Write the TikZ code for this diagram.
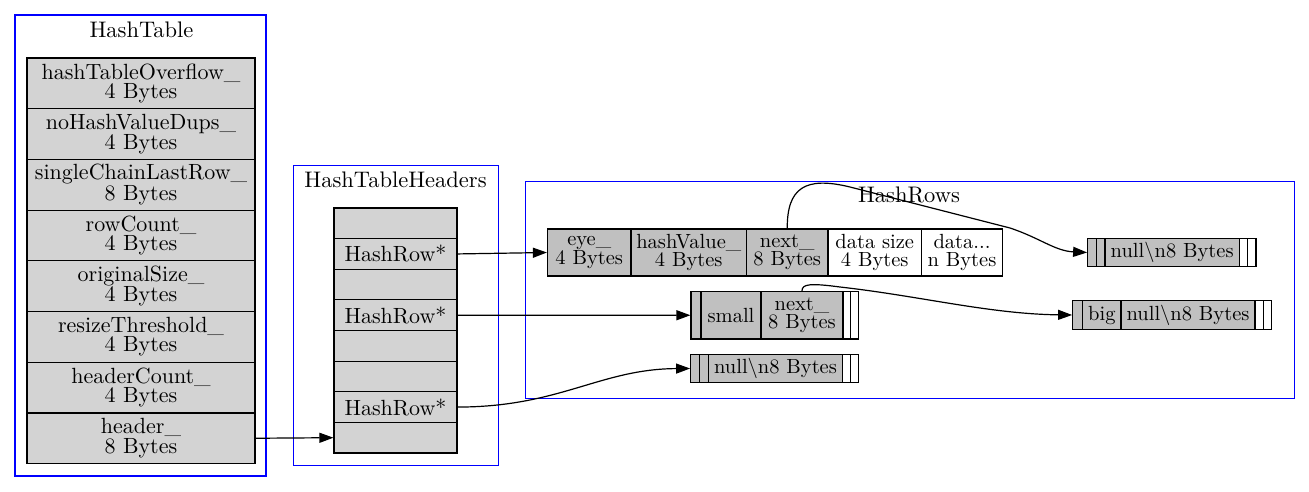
\documentclass[tikz,border=0pt]{standalone}
\usepackage{fontspec}
\setmainfont{lmroman10-regular.otf}
\usetikzlibrary{arrows.meta}
\definecolor{lgray}{HTML}{D3D3D3}
\definecolor{sgray}{HTML}{C0C0C0}
\begin{document}
\begin{tikzpicture}[x=1pt,y=-1pt,
  cell/.style={draw=black, line width=1.2pt, inner sep=0pt, align=center, font=\fontsize{22}{19.5}\selectfont},
  ltcell/.style={cell, fill=lgray},
  gcell/.style={cell, fill=sgray, font=\fontsize{20.5}{18}\selectfont},
  wcell/.style={cell, fill=white, font=\fontsize{20.5}{18}\selectfont},
  cluster/.style={draw=blue, line width=1pt},
  clabel/.style={inner sep=0pt, font=\fontsize{22.5}{19}\selectfont},
  edge/.style={-{Triangle[length=14pt,width=10pt]}, line width=1.2pt},
]
\useasboundingbox (0,0) rectangle (1309,492);
% clusters
\draw[cluster, line width=2.6pt] (15,15) rectangle (266,476);
\node[clabel] (lht) at (141.5,30) {HashTable};
\draw[cluster] (293,165) rectangle (498,465);
\node[clabel] (lhh) at (395.5,180) {HashTableHeaders};
\draw[cluster] (525,181) rectangle (1294,398);
\node[clabel] (lhr) at (909,195) {HashRows};
% HashTable record
\foreach \n/\t [count=\i] in {hashTableOverflow\_/4 Bytes, noHashValueDups\_/4 Bytes, singleChainLastRow\_/8 Bytes, rowCount\_/4 Bytes, originalSize\_/4 Bytes, resizeThreshold\_/4 Bytes, headerCount\_/4 Bytes, header\_/8 Bytes}
  \node[ltcell, minimum width=228pt, minimum height=50.7pt] (ht\i) at (141,{58+50.7*(\i-0.5)}) {\n\\\t};
% HashTableHeaders record
\foreach \t [count=\i] in {{},HashRow*,{},HashRow*,{},{},HashRow*,{}}
  \node[ltcell, minimum width=123pt, minimum height=30.625pt] (hh\i) at (395.5,{208+30.625*(\i-0.5)}) {\t};
% row 1
\node[gcell, minimum width=83.5pt, minimum height=47pt] (ra) at (589.25,252.5) {eye\_\\4 Bytes};
\node[gcell, minimum width=115.5pt, minimum height=47pt] (rb) at (688.75,252.5) {hashValue\_\\4 Bytes};
\node[gcell, minimum width=81.5pt, minimum height=47pt] (rc) at (787.25,252.5) {next\_\\8 Bytes};
\node[wcell, minimum width=93.5pt, minimum height=47pt] (rd) at (874.75,252.5) {data size\\4 Bytes};
\node[wcell, minimum width=81pt, minimum height=47pt] (re) at (962,252.5) {data...\\n Bytes};
% small record
\node[gcell, minimum width=10pt, minimum height=47.5pt] (sa) at (696,315.25) {};
\node[gcell, minimum width=60pt, minimum height=47.5pt] (sb) at (731,315.25) {small};
\node[gcell, minimum width=82pt, minimum height=47.5pt] (sc) at (802,315.25) {next\_\\8 Bytes};
\node[wcell, minimum width=7.7pt, minimum height=47.5pt] (sd) at (846.85,315.25) {};
\node[wcell, minimum width=8pt, minimum height=47.5pt] (se) at (854.7,315.25) {};
% null record (bottom)
\node[gcell, minimum width=8.6pt, minimum height=28.4pt] (na) at (695,368.5) {};
\node[gcell, minimum width=9pt, minimum height=28.4pt] (nb) at (703.8,368.5) {};
\node[gcell, minimum width=134.4pt, minimum height=28.4pt] (nc) at (775.5,368.5) {null\textbackslash n8 Bytes};
\node[wcell, minimum width=8pt, minimum height=28.4pt] (nd) at (846.7,368.5) {};
\node[wcell, minimum width=8pt, minimum height=28.4pt] (ne) at (854.7,368.5) {};
% null record (top right)
\node[gcell, minimum width=9pt, minimum height=28.4pt] (ta) at (1092.2,252.5) {};
\node[gcell, minimum width=8.3pt, minimum height=28.4pt] (tb) at (1100.85,252.5) {};
\node[gcell, minimum width=134.3pt, minimum height=28.4pt] (tc) at (1172.15,252.5) {null\textbackslash n8 Bytes};
\node[wcell, minimum width=8pt, minimum height=28.4pt] (td) at (1243.3,252.5) {};
\node[wcell, minimum width=8.7pt, minimum height=28.4pt] (te) at (1251.65,252.5) {};
% big record
\node[gcell, minimum width=10pt, minimum height=28.6pt] (ba) at (1077.7,315) {};
\node[gcell, minimum width=38.3pt, minimum height=28.6pt] (bb) at (1101.85,315) {big};
\node[gcell, minimum width=134pt, minimum height=28.6pt] (bc) at (1188,315) {null\textbackslash n8 Bytes};
\node[wcell, minimum width=8.3pt, minimum height=28.6pt] (bd) at (1259.15,315) {};
\node[wcell, minimum width=8.4pt, minimum height=28.6pt] (be) at (1267.5,315) {};
% edges
\draw[edge] (ht8.east) -- (hh8.west);
\draw[edge] (hh2.east) -- (ra.west);
\draw[edge] (hh4.east) -- (sa.west);
\draw[edge] (hh7.east) .. controls (560,407) and (600,369) .. (na.west);
\draw[edge] (rc.north) .. controls (787,188) and (805,176) .. (850,187) -- (1010,228) .. controls (1040,238) and (1055,251) .. (ta.west);
\draw[edge] (sc.north) .. controls (802,284) and (810,283) .. (840,287) .. controls (920,296) and (990,314) .. (ba.west);
\end{tikzpicture}
\end{document}
